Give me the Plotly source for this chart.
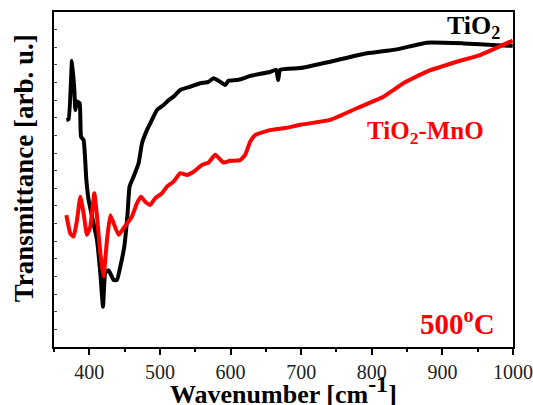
import plotly.graph_objects as go

# TiO2 (black) spectrum
tio2_x = [367.5, 370.7, 375.5, 378.8, 380.2, 382.6, 386.3, 388.3, 391.9, 395.8, 399.0,
          410.9, 415.6, 419.4, 422.6, 427.3, 434.4, 439.2, 443.9, 449.5, 454.2, 457.0,
          462.7, 469.8, 474.6, 481.6, 488.7, 495.8, 505.1, 512.2, 519.3, 528.8, 542.9,
          557.1, 568.8, 575.9, 583.0, 592.4, 597.1, 609.0, 618.3, 627.8, 656.1, 664.6,
          667.4, 670.3, 698.6, 741.0, 788.1, 835.4, 877.9, 929.6, 976.9, 999.6]
tio2_y = [64.4, 64.6, 81.2, 72.9, 67.2, 69.6, 69.1, 59.6, 58.7, 47.4, 41.7,
          30.3, 21.0, 11.4, 21.0, 21.8, 19.0, 19.0, 22.8, 28.4, 37.9, 45.5,
          48.3, 52.1, 57.8, 61.5, 64.4, 67.2, 68.6, 70.0, 71.0, 72.9, 73.8,
          74.8, 75.2, 76.2, 75.5, 74.3, 75.5, 75.7, 76.2, 76.9, 78.0, 78.6,
          75.7, 78.6, 79.1, 80.9, 83.1, 84.4, 86.3, 86.1, 85.6, 85.4]

# TiO2-MnO (red) spectrum
mno_x = [367.5, 373.1, 377.8, 382.6, 387.3, 391.9, 396.7, 401.4, 407.1, 410.9, 415.6,
         420.2, 425.0, 429.7, 434.4, 441.5, 448.5, 460.4, 467.5, 473.2, 479.2, 486.3,
         493.4, 502.9, 509.9, 519.3, 528.8, 538.2, 547.6, 559.5, 568.8, 578.3, 590.0,
         599.5, 613.7, 620.7, 627.8, 634.9, 656.1, 677.4, 698.6, 741.0, 778.8, 816.4,
         844.8, 877.9, 920.3, 953.3, 999.6]
mno_y = [37.4, 32.2, 31.3, 36.0, 42.6, 37.9, 31.8, 34.1, 43.6, 37.0, 26.6,
         20.0, 30.3, 37.4, 35.1, 31.8, 33.7, 37.0, 40.8, 42.6, 41.2, 40.3,
         42.2, 43.6, 45.5, 46.9, 49.3, 48.8, 49.7, 51.6, 52.3, 54.5, 52.3,
         52.8, 53.0, 54.5, 58.2, 60.1, 61.5, 62.1, 63.0, 64.4, 67.7, 71.0,
         74.8, 78.1, 80.9, 82.8, 86.9]

x_ticks = [400, 500, 600, 700, 800, 900, 1000]

FONT = "Liberation Serif"

fig = go.Figure()
fig.add_trace(go.Scatter(x=tio2_x, y=tio2_y, mode="lines",
                         line=dict(color="black", width=4, shape="spline", smoothing=0.4),
                         showlegend=False))
fig.add_trace(go.Scatter(x=mno_x, y=mno_y, mode="lines",
                         line=dict(color="#ff0000", width=4, shape="spline", smoothing=0.4),
                         showlegend=False))

fig.update_layout(
    width=533, height=405,
    margin=dict(l=54, r=20, t=12, b=58, autoexpand=False),
    paper_bgcolor="white", plot_bgcolor="white",
    font=dict(family=FONT, color="black"),
    xaxis=dict(range=[350, 1000], tickvals=x_ticks, ticks="outside", ticklen=6,
               tickwidth=1.5, tickcolor="black", showline=True, linecolor="black",
               linewidth=1.5, mirror=True, showgrid=False, zeroline=False,
               automargin=False,
               tickfont=dict(family=FONT, size=20, color="#222"),
               minor=dict(dtick=50, tick0=350, ticks="outside", ticklen=3,
                          tickcolor="black", tickwidth=1.5, showgrid=False)),
    yaxis=dict(range=[0, 95], dtick=5, tick0=0, ticks="inside", ticklen=3,
               tickwidth=1, tickcolor="#444", showticklabels=False, showline=True,
               linecolor="black", linewidth=1.5, mirror=True, showgrid=False,
               zeroline=False, automargin=False),
    annotations=[
        dict(text="<b>Wavenumber [cm<sup><span style='font-size:24px'>-1</span></sup>]</b>",
             xref="paper", yref="paper",
             x=0.5, y=-0.127, xanchor="center", yanchor="middle", showarrow=False,
             font=dict(family=FONT, size=26, color="black")),
        dict(text="<b>Transmittance [arb. u.]</b>", xref="paper", yref="paper",
             x=-0.065, y=0.534, xanchor="center", yanchor="middle", textangle=-90,
             showarrow=False, font=dict(family=FONT, size=27, color="black")),
        dict(text="<b>TiO<sub>2</sub></b>", xref="paper", yref="paper",
             x=0.976, y=0.955, xanchor="right", yanchor="middle", showarrow=False,
             font=dict(family=FONT, size=26, color="black")),
        dict(text="<b>TiO<sub>2</sub>-MnO</b>", xref="paper", yref="paper",
             x=0.678, y=0.639, xanchor="left", yanchor="middle", showarrow=False,
             font=dict(family=FONT, size=25, color="#ff0000")),
        dict(text="<b>500<sup>o</sup>C</b>", xref="paper", yref="paper",
             x=0.965, y=0.075, xanchor="right", yanchor="middle", showarrow=False,
             font=dict(family=FONT, size=29, color="#ff0000")),
    ],
)

fig.write_html("out.html")
